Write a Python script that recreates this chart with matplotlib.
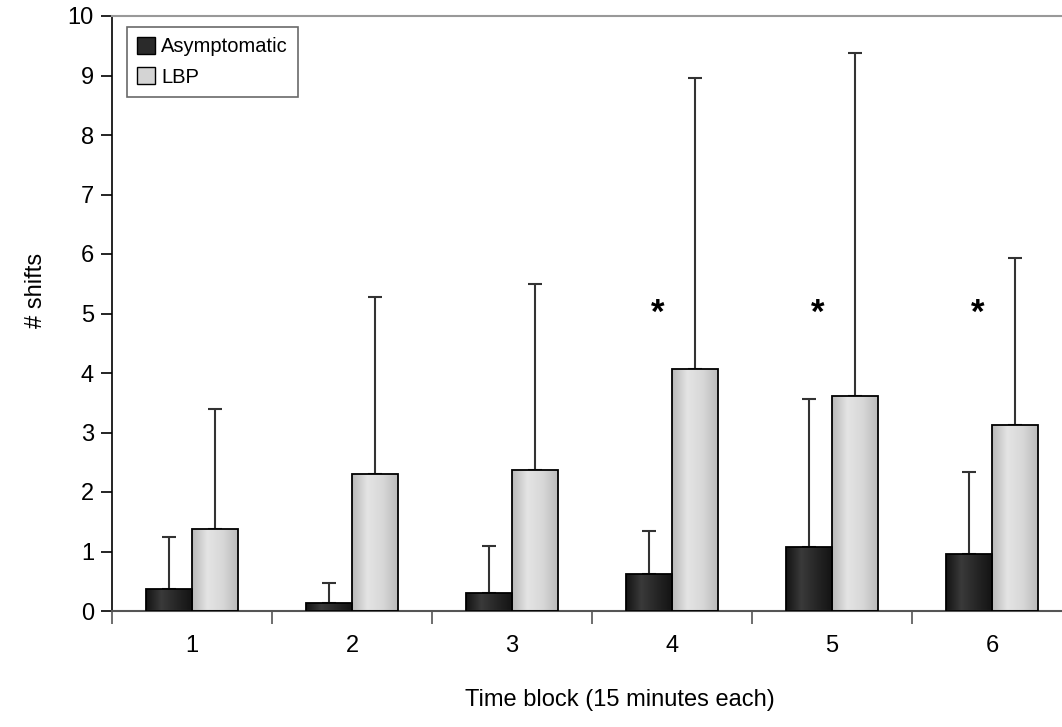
import numpy as np
import matplotlib
matplotlib.use("Agg")
import matplotlib.pyplot as plt
from matplotlib.patches import Patch
from matplotlib.colors import LinearSegmentedColormap

blocks = ["1", "2", "3", "4", "5", "6"]
asym = [0.37, 0.13, 0.31, 0.63, 1.07, 0.95]
asym_sd = [0.88, 0.34, 0.79, 0.71, 2.49, 1.38]
lbp = [1.38, 2.30, 2.37, 4.06, 3.62, 3.13]
lbp_sd = [2.02, 2.97, 3.13, 4.89, 5.75, 2.80]
star_blocks = [4, 5, 6]
star_y = 5.0

plt.rcParams['font.family'] = ['Liberation Sans', 'DejaVu Sans']

fig = plt.figure(figsize=(10.62, 7.27), dpi=100)
ax = fig.add_axes([112 / 1062, 116 / 727, 960 / 1062, 595 / 727])

x = np.arange(1, len(blocks) + 1)
w = 1 / 3.5

dark_cmap = LinearSegmentedColormap.from_list("d", ["#141414", "#3a3a3a", "#262626", "#141414"])
light_cmap = LinearSegmentedColormap.from_list("l", ["#b8b8b8", "#e4e4e4", "#d8d8d8", "#bcbcbc"])

bars1 = ax.bar(x - w / 2, asym, w, facecolor="none", edgecolor="black", linewidth=1.3, zorder=3)
bars2 = ax.bar(x + w / 2, lbp, w, facecolor="none", edgecolor="black", linewidth=1.3, zorder=3)

# horizontal gradient inside each bar
grad = np.linspace(0, 1, 64).reshape(1, -1)
for bars, cmap in [(bars1, dark_cmap), (bars2, light_cmap)]:
    for b in bars:
        bx, by = b.get_x(), b.get_y()
        im = ax.imshow(grad, cmap=cmap, aspect="auto", zorder=2,
                       extent=[bx, bx + b.get_width(), by, by + b.get_height()])
        im.set_clip_path(b)

ax.errorbar(x - w / 2, asym, yerr=[np.zeros(6), asym_sd], fmt="none",
            ecolor="#333333", elinewidth=1.5, capsize=5, capthick=1.5, zorder=1)
ax.errorbar(x + w / 2, lbp, yerr=[np.zeros(6), lbp_sd], fmt="none",
            ecolor="#333333", elinewidth=1.5, capsize=5, capthick=1.5, zorder=1)

for s in star_blocks:
    ax.text(s - 0.09, star_y, "*", ha="center", va="center", fontsize=25, fontweight="bold")

ax.set_xlim(0.5, 6.5)
ax.set_ylim(0, 10)
ax.set_yticks(range(0, 11))
ax.set_xticks(np.arange(0.5, 7.0, 1.0))
ax.set_xticklabels([])
ax.set_xticks(x, minor=True)
ax.set_xticklabels(blocks, minor=True)
ax.tick_params(axis="x", which="major", direction="out", length=9, width=1.2, color="#555555")
ax.tick_params(axis="x", which="minor", length=0, pad=17, labelsize=17)
ax.tick_params(axis="y", direction="out", length=8, width=1.2, labelsize=17, pad=5)

ax.spines["right"].set_visible(False)
ax.spines["top"].set_color("#999999")
ax.spines["top"].set_linewidth(1.5)
ax.spines["bottom"].set_color("#555555")
ax.spines["bottom"].set_linewidth(1.5)
ax.spines["left"].set_linewidth(1.2)

fig.text(620 / 1062, 1 - 700 / 727, "Time block (15 minutes each)", ha="center", va="center", fontsize=17)
fig.text(36 / 1062, 1 - 290 / 727, "# shifts", ha="center", va="center", rotation=90, fontsize=17)

handles = [Patch(facecolor="#2a2a2a", edgecolor="black", label="Asymptomatic"),
           Patch(facecolor="#d4d4d4", edgecolor="black", label="LBP")]
leg = ax.legend(handles=handles, loc="upper left", bbox_to_anchor=(127 / 1062, 1 - 27 / 727),
                bbox_transform=fig.transFigure, fontsize=14.5, frameon=True, fancybox=False,
                borderpad=0.5, handlelength=0.9, handleheight=0.9, handletextpad=0.3,
                labelspacing=0.55, borderaxespad=0)
leg.get_frame().set_edgecolor("#444444")
leg.get_frame().set_linewidth(1.2)

fig.savefig("out.png", dpi=100)
